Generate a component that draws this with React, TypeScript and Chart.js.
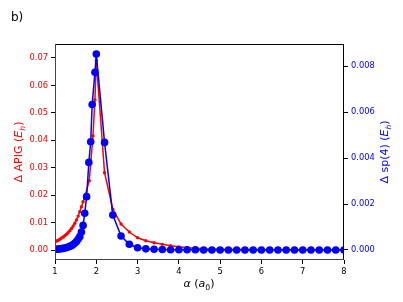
import React, { useEffect, useRef } from 'react';
import { Chart, registerables } from 'chart.js';

Chart.register(...registerables);

// ΔAPIG (red, left axis)
const apigX = [
  1.00, 1.04, 1.08, 1.12, 1.16, 1.20, 1.24, 1.28, 1.32, 1.36, 1.40, 1.44, 1.48, 1.52, 1.56, 1.60, 1.64, 1.68,
  1.74, 1.83, 1.92, 1.967, 2.00,
  2.2, 2.4, 2.6, 2.8, 3.0, 3.2, 3.4, 3.6, 3.8, 4.0, 4.2, 4.4, 4.6, 4.8, 5.0, 5.2, 5.4, 5.6, 5.8, 6.0,
  6.2, 6.4, 6.6, 6.8, 7.0, 7.2, 7.4, 7.6, 7.8, 8.0,
];
const apigY = [
  0.0030, 0.0033, 0.0036, 0.0040, 0.0044, 0.0048, 0.0053, 0.0058, 0.0064, 0.0071, 0.0079, 0.0088, 0.0098, 0.0110, 0.0124, 0.0140, 0.0158, 0.0176,
  0.0204, 0.0253, 0.0416, 0.0547, 0.0690,
  0.0282, 0.0149, 0.0095, 0.0066, 0.0045, 0.0034, 0.0027, 0.0021, 0.0016, 0.0012, 0.0009, 0.0007, 0.0005, 0.0004, 0.0003, 0.0003, 0.0002, 0.0002, 0.0002, 0.0001,
  0.0001, 0.0001, 0.0001, 0.0001, 0.0001, 0.0001, 0.0000, 0.0000, 0.0000, 0.0000,
];

// Δsp(4) (blue, right axis)
const spX = [
  1.00, 1.04, 1.08, 1.12, 1.16, 1.20, 1.24, 1.28, 1.32, 1.36, 1.40, 1.44, 1.48, 1.52, 1.56, 1.60, 1.64, 1.68,
  1.72, 1.766, 1.82, 1.865, 1.90, 1.967, 2.00,
  2.2, 2.4, 2.6, 2.8, 3.0, 3.2, 3.4, 3.6, 3.8, 4.0, 4.2, 4.4, 4.6, 4.8, 5.0, 5.2, 5.4, 5.6, 5.8, 6.0,
  6.2, 6.4, 6.6, 6.8, 7.0, 7.2, 7.4, 7.6, 7.8, 8.0,
];
const spY = [
  0.00003, 0.00003, 0.00004, 0.00005, 0.00006, 0.00007, 0.00009, 0.00011, 0.00013, 0.00016, 0.00019, 0.00024, 0.00030, 0.00037, 0.00047, 0.00058, 0.00078, 0.00107,
  0.00160, 0.00232, 0.00381, 0.00471, 0.00633, 0.00773, 0.00852,
  0.00468, 0.00152, 0.00061, 0.00025, 0.00010, 0.00005, 0.00003, 0.00002, 0.00001, 0.00001, 0.00001, 0.00001, 0.0, 0.0, 0.0, 0.0, 0.0, 0.0, 0.0, 0.0,
  0.0, 0.0, 0.0, 0.0, 0.0, 0.0, 0.0, 0.0, 0.0, 0.0,
];

const xTicks = { min: 1, max: 8, step: 1 };
const leftTicks = { min: -0.0036, max: 0.0751, step: 0.01 };
const rightTicks = { min: -0.000435, max: 0.00896, step: 0.002 };

const FONT = 'DejaVu Sans';

type Seg = { t: string; italic?: boolean; sub?: boolean };

function drawRich(ctx: CanvasRenderingContext2D, segs: Seg[], cx: number, cy: number, rot: number, color: string, size: number) {
  ctx.save();
  ctx.translate(cx, cy);
  ctx.rotate(rot);
  ctx.fillStyle = color;
  ctx.textBaseline = 'alphabetic';
  ctx.textAlign = 'left';
  const fontFor = (s: Seg) => `${s.italic ? 'italic ' : ''}${s.sub ? size * 0.7 : size}px "${FONT}"`;
  let total = 0;
  const widths = segs.map((s) => {
    ctx.font = fontFor(s);
    const w = ctx.measureText(s.t).width;
    total += w;
    return w;
  });
  let x = -total / 2;
  const base = size * 0.36;
  segs.forEach((s, i) => {
    ctx.font = fontFor(s);
    ctx.fillText(s.t, x, base + (s.sub ? size * 0.25 : 0));
    x += widths[i];
  });
  ctx.restore();
}

const decorPlugin = {
  id: 'decor',
  afterDraw(chart: any) {
    const ctx = chart.ctx as CanvasRenderingContext2D;
    const a = chart.chartArea;
    ctx.save();
    ctx.lineWidth = 1;
    ctx.strokeStyle = '#000';
    ctx.beginPath();
    ctx.moveTo(a.left, a.top + 0.5);
    ctx.lineTo(a.right, a.top + 0.5);
    ctx.moveTo(a.right - 0.5, a.top);
    ctx.lineTo(a.right - 0.5, a.bottom);
    ctx.stroke();
    ctx.strokeStyle = '#444';
    ctx.beginPath();
    ctx.moveTo(a.left + 0.5, a.top);
    ctx.lineTo(a.left + 0.5, a.bottom);
    ctx.moveTo(a.left, a.bottom - 0.5);
    ctx.lineTo(a.right, a.bottom - 0.5);
    ctx.stroke();
    ctx.restore();

    ctx.save();
    ctx.fillStyle = '#000';
    ctx.font = `12px "${FONT}"`;
    ctx.textBaseline = 'middle';
    ctx.fillText('b)', 11, 18);
    ctx.restore();

    drawRich(ctx, [{ t: 'Δ APIG (' }, { t: 'E', italic: true }, { t: 'h', italic: true, sub: true }, { t: ')' }], 18, 152, -Math.PI / 2, '#ff0000', 11);
    drawRich(ctx, [{ t: 'Δ sp(4) (' }, { t: 'E', italic: true }, { t: 'h', italic: true, sub: true }, { t: ')' }], 384, 152, -Math.PI / 2, '#0000ff', 11);
    drawRich(ctx, [{ t: 'α', italic: true }, { t: ' (' }, { t: 'a', italic: true }, { t: '0', sub: true }, { t: ')' }], 199, 283, 0, '#000', 11);
  },
};

export default function App() {
  const ref = useRef<HTMLCanvasElement | null>(null);
  useEffect(() => {
    document.body.style.margin = '0';
    const canvas = ref.current!;
    const chart = new Chart(canvas, {
      type: 'line',
      data: {
        datasets: [
          {
            label: 'Δ sp(4)',
            data: spX.map((x, i) => ({ x, y: spY[i] })),
            yAxisID: 'y1',
            borderColor: '#0000ff',
            backgroundColor: '#0000ff',
            pointBackgroundColor: '#0000ff',
            pointBorderWidth: 0,
            pointRadius: 3.8,
            borderWidth: 1.5,
            tension: 0,
            clip: 0,
            order: 1,
          } as any,
          {
            label: 'Δ APIG',
            data: apigX.map((x, i) => ({ x, y: apigY[i] })),
            yAxisID: 'y',
            borderColor: '#ff0000',
            backgroundColor: '#ff0000',
            pointBackgroundColor: '#ff0000',
            pointBorderWidth: 0,
            pointRadius: 1.7,
            borderWidth: 1.5,
            tension: 0,
            clip: 0,
            order: 2,
          } as any,
        ],
      },
      options: {
        responsive: false,
        animation: false,
        layout: { padding: { top: 44, left: 0, right: 0, bottom: 0 } },
        plugins: { legend: { display: false }, tooltip: { enabled: false } },
        scales: {
          x: {
            type: 'linear',
            min: xTicks.min,
            max: xTicks.max,
            ticks: { stepSize: xTicks.step, color: '#000', font: { family: FONT, size: 8.3 }, padding: 3, maxRotation: 0 },
            grid: { drawOnChartArea: false, tickLength: 4, color: '#000' },
            border: { display: false },
            afterFit: (s: any) => { s.height = 42; },
          },
          y: {
            type: 'linear',
            position: 'left',
            min: leftTicks.min,
            max: leftTicks.max,
            ticks: {
              stepSize: leftTicks.step,
              includeBounds: false,
              color: '#ff0000',
              font: { family: FONT, size: 8.3 },
              padding: 3,
              callback: (v: any) => Number(v).toFixed(2),
            },
            grid: { drawOnChartArea: false, tickLength: 4, color: '#000' },
            border: { display: false },
            afterFit: (s: any) => { s.width = 55; },
          },
          y1: {
            type: 'linear',
            position: 'right',
            min: rightTicks.min,
            max: rightTicks.max,
            ticks: {
              stepSize: rightTicks.step,
              includeBounds: false,
              color: '#0000ff',
              font: { family: FONT, size: 8.3 },
              padding: 3,
              callback: (v: any) => Math.abs(Number(v)).toFixed(3),
            },
            grid: { drawOnChartArea: false, tickLength: 4, color: '#000' },
            border: { display: false },
            afterFit: (s: any) => { s.width = 59; },
          },
        },
      } as any,
      plugins: [decorPlugin],
    });
    return () => chart.destroy();
  }, []);
  return <canvas ref={ref} width={403} height={302} style={{ display: 'block' }} />;
}
